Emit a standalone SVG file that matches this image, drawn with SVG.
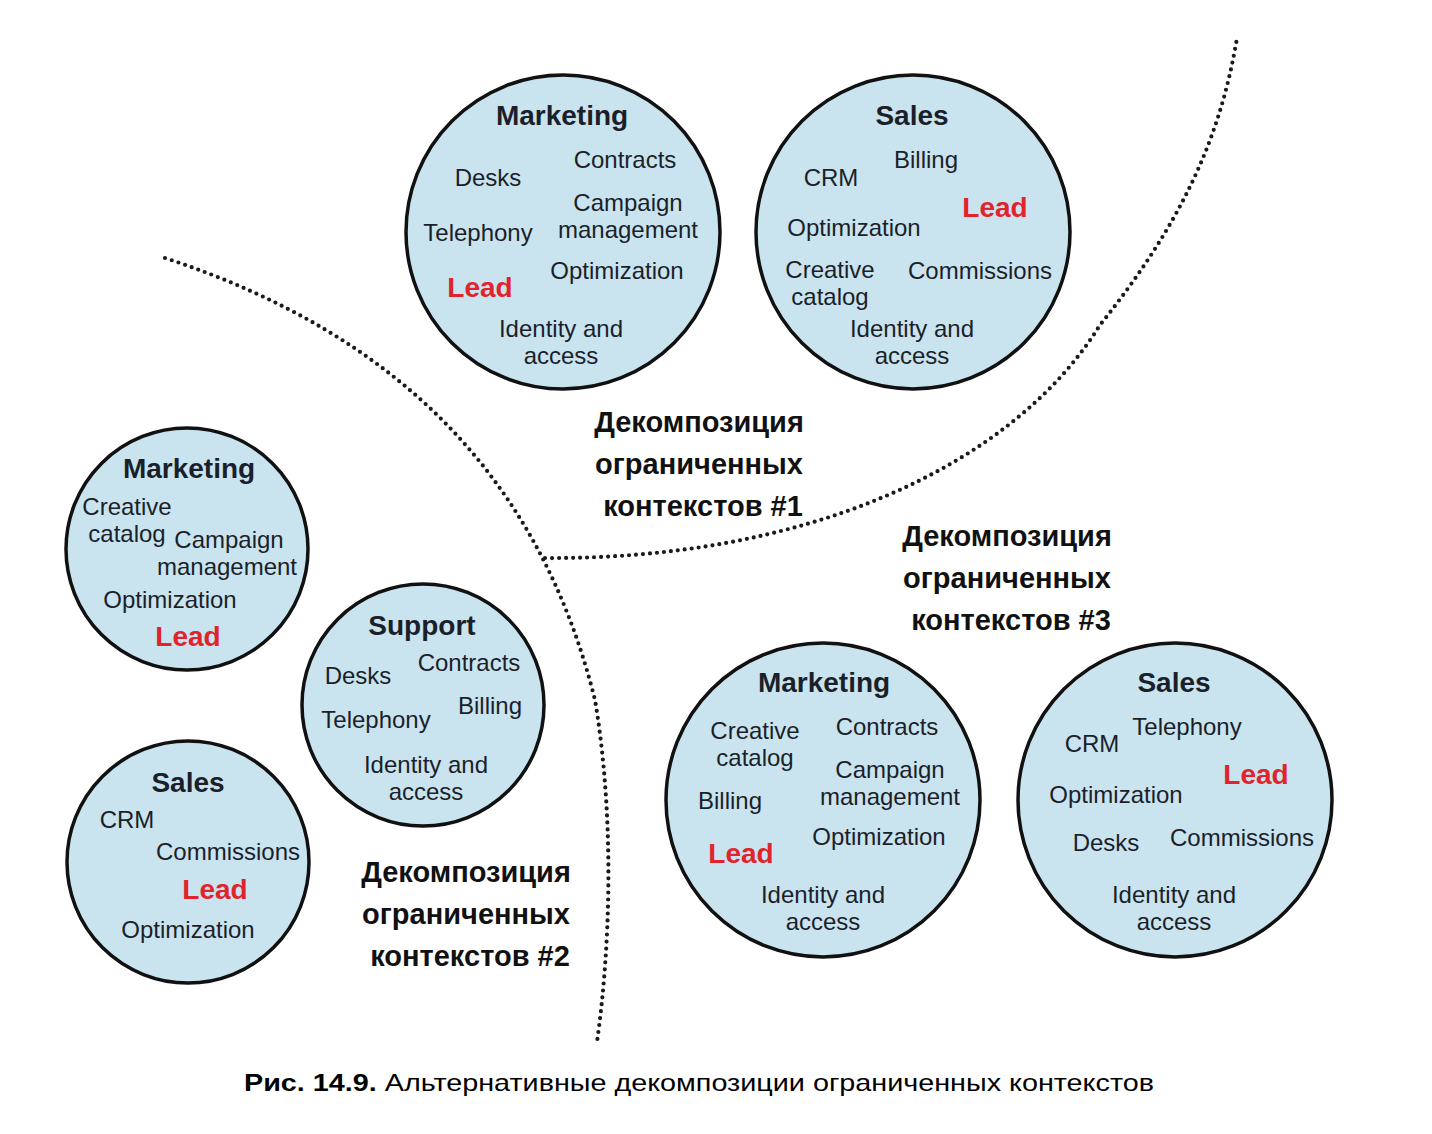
<svg xmlns="http://www.w3.org/2000/svg" width="1432" height="1134" viewBox="0 0 1432 1134">
<style>
.c{fill:#c9e4ef;stroke:#111;stroke-width:3.5}
text{font-family:"Liberation Sans",Arial,sans-serif;fill:#1b1f2a;text-anchor:middle}
.t{font-size:24px}
.h{font-size:28px;font-weight:bold}
.r{font-size:28px;font-weight:bold;fill:#e1232b}
.l{font-size:29px;font-weight:bold;fill:#111}
.d{fill:none;stroke:#1a1a1a;stroke-width:4.2;stroke-linecap:round;stroke-dasharray:0 7}
</style>
<rect width="1432" height="1134" fill="#fff"/>
<g id="connectors">
<path class="d" d="M165,258 C400,335 540,480 595,700 C615,820 610,950 597,1042"/>
<path class="d" d="M545,558 C800,560 1010,470 1100,325 C1180,225 1220,140 1237,38"/>
</g>
<g id="marketing1">
<circle class="c" cx="563" cy="232" r="157"/>
<text class="h" x="562" y="125">Marketing</text>
<text class="t" x="488" y="186">Desks</text>
<text class="t" x="625" y="168">Contracts</text>
<text class="t" x="628" y="211">Campaign</text>
<text class="t" x="628" y="238">management</text>
<text class="t" x="478" y="241">Telephony</text>
<text class="t" x="617" y="279">Optimization</text>
<text class="r" x="480" y="297">Lead</text>
<text class="t" x="561" y="337">Identity and</text>
<text class="t" x="561" y="364">access</text>
</g>
<g id="sales1">
<circle class="c" cx="913" cy="232" r="157"/>
<text class="h" x="912" y="125">Sales</text>
<text class="t" x="831" y="186">CRM</text>
<text class="t" x="926" y="168">Billing</text>
<text class="r" x="995" y="217">Lead</text>
<text class="t" x="854" y="236">Optimization</text>
<text class="t" x="830" y="278">Creative</text>
<text class="t" x="830" y="305">catalog</text>
<text class="t" x="980" y="279">Commissions</text>
<text class="t" x="912" y="337">Identity and</text>
<text class="t" x="912" y="364">access</text>
</g>
<g id="label1">
<text class="l" x="699" y="432">Декомпозиция</text>
<text class="l" x="699" y="474">ограниченных</text>
<text class="l" x="703" y="516">контекстов #1</text>
</g>
<g id="marketing2">
<circle class="c" cx="187" cy="549" r="121"/>
<text class="h" x="189" y="478">Marketing</text>
<text class="t" x="127" y="515">Creative</text>
<text class="t" x="127" y="542">catalog</text>
<text class="t" x="229" y="548">Campaign</text>
<text class="t" x="227" y="575">management</text>
<text class="t" x="170" y="608">Optimization</text>
<text class="r" x="188" y="646">Lead</text>
</g>
<g id="support2">
<circle class="c" cx="423" cy="705" r="121"/>
<text class="h" x="422" y="635">Support</text>
<text class="t" x="358" y="684">Desks</text>
<text class="t" x="469" y="671">Contracts</text>
<text class="t" x="490" y="714">Billing</text>
<text class="t" x="376" y="728">Telephony</text>
<text class="t" x="426" y="773">Identity and</text>
<text class="t" x="426" y="800">access</text>
</g>
<g id="sales2">
<circle class="c" cx="188" cy="862" r="121"/>
<text class="h" x="188" y="792">Sales</text>
<text class="t" x="127" y="828">CRM</text>
<text class="t" x="228" y="860">Commissions</text>
<text class="r" x="215" y="899">Lead</text>
<text class="t" x="188" y="938">Optimization</text>
</g>
<g id="label2">
<text class="l" x="466" y="882">Декомпозиция</text>
<text class="l" x="466" y="924">ограниченных</text>
<text class="l" x="470" y="966">контекстов #2</text>
</g>
<g id="label3">
<text class="l" x="1007" y="546">Декомпозиция</text>
<text class="l" x="1007" y="588">ограниченных</text>
<text class="l" x="1011" y="630">контекстов #3</text>
</g>
<g id="marketing3">
<circle class="c" cx="823" cy="800" r="157"/>
<text class="h" x="824" y="692">Marketing</text>
<text class="t" x="755" y="739">Creative</text>
<text class="t" x="755" y="766">catalog</text>
<text class="t" x="887" y="735">Contracts</text>
<text class="t" x="890" y="778">Campaign</text>
<text class="t" x="890" y="805">management</text>
<text class="t" x="730" y="809">Billing</text>
<text class="t" x="879" y="845">Optimization</text>
<text class="r" x="741" y="863">Lead</text>
<text class="t" x="823" y="903">Identity and</text>
<text class="t" x="823" y="930">access</text>
</g>
<g id="sales3">
<circle class="c" cx="1175" cy="800" r="157"/>
<text class="h" x="1174" y="692">Sales</text>
<text class="t" x="1092" y="752">CRM</text>
<text class="t" x="1187" y="735">Telephony</text>
<text class="r" x="1256" y="784">Lead</text>
<text class="t" x="1116" y="803">Optimization</text>
<text class="t" x="1106" y="851">Desks</text>
<text class="t" x="1242" y="846">Commissions</text>
<text class="t" x="1174" y="903">Identity and</text>
<text class="t" x="1174" y="930">access</text>
</g>
<g id="caption">
<text x="699" y="1091" style="font-size:24px;fill:#000" textLength="910" lengthAdjust="spacingAndGlyphs"><tspan font-weight="bold">Рис. 14.9.</tspan> Альтернативные декомпозиции ограниченных контекстов</text>
</g>
</svg>
